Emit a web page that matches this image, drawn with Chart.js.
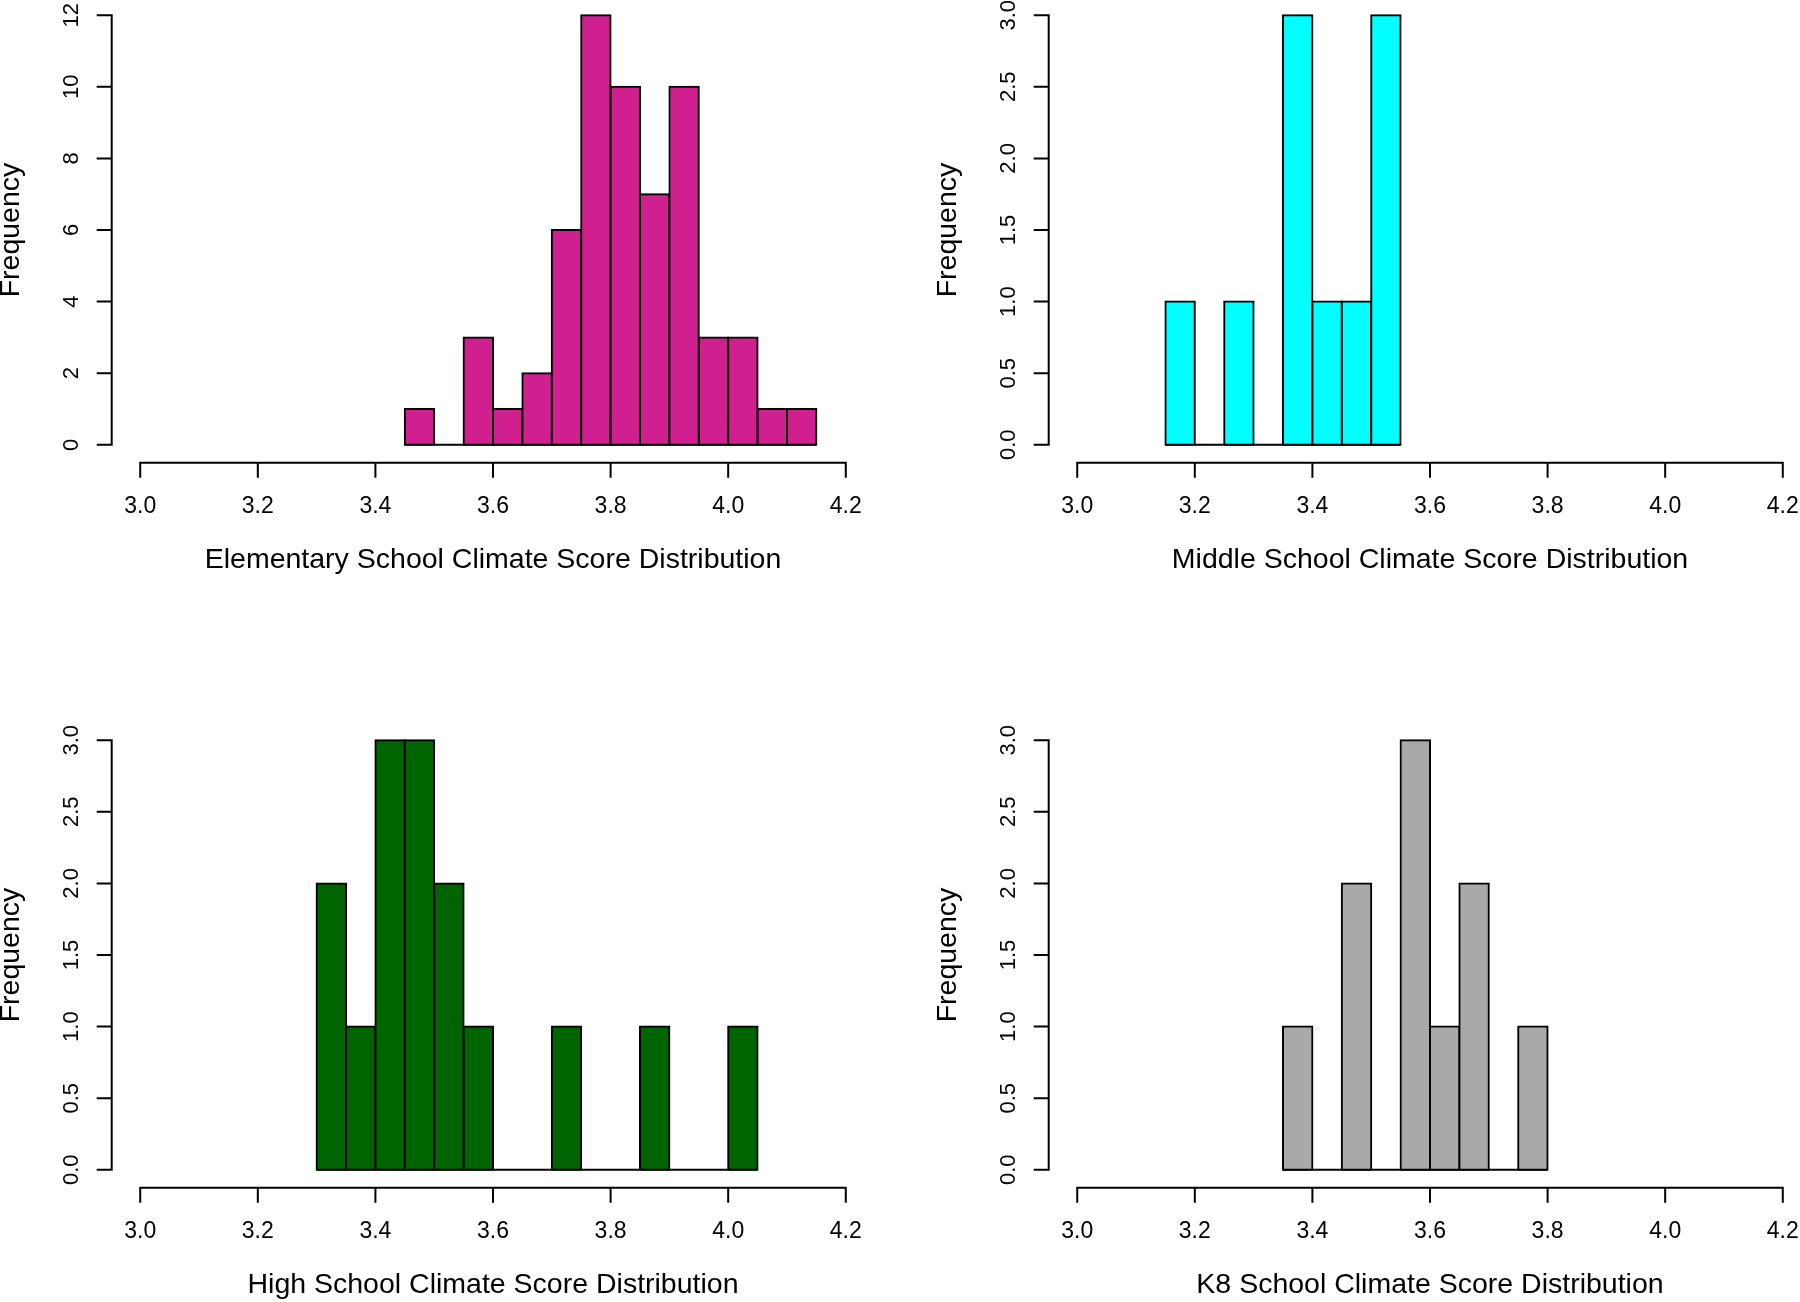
<!DOCTYPE html>
<html>
<head>
<meta charset="utf-8">
<script src="https://cdn.jsdelivr.net/npm/chart.js@4.4.1/dist/chart.umd.min.js"></script>
<style>
  html, body { margin: 0; padding: 0; background: #fff; }
  #wrap { position: relative; width: 1800px; height: 1302px; overflow: hidden; background: #fff; }
  canvas { position: absolute; }
</style>
</head>
<body>
<div id="wrap">
  <canvas id="c1" width="900" height="652" style="left:0px;top:-2px;"></canvas>
  <canvas id="c2" width="900" height="652" style="left:937px;top:-2px;"></canvas>
  <canvas id="c3" width="900" height="652" style="left:0px;top:723px;"></canvas>
  <canvas id="c4" width="900" height="652" style="left:937px;top:723px;"></canvas>
</div>
<script>
// ---- data ----
const xTicks = [3.0, 3.2, 3.4, 3.6, 3.8, 4.0, 4.2];

const elementaryBreaks = [3.45, 3.50, 3.55, 3.60, 3.65, 3.70, 3.75, 3.80, 3.85, 3.90, 3.95, 4.00, 4.05, 4.10, 4.15];
const elementaryCounts = [1, 0, 3, 1, 2, 6, 12, 10, 7, 10, 3, 3, 1, 1];
const elementaryYTicks = [0, 2, 4, 6, 8, 10, 12];

const middleBreaks = [3.15, 3.20, 3.25, 3.30, 3.35, 3.40, 3.45, 3.50, 3.55];
const middleCounts = [1, 0, 1, 0, 3, 1, 1, 3];
const middleYTicks = [0, 0.5, 1.0, 1.5, 2.0, 2.5, 3.0];

const highBreaks = [3.30, 3.35, 3.40, 3.45, 3.50, 3.55, 3.60, 3.65, 3.70, 3.75, 3.80, 3.85, 3.90, 3.95, 4.00, 4.05];
const highCounts = [2, 1, 3, 3, 2, 1, 0, 0, 1, 0, 0, 1, 0, 0, 1];
const highYTicks = [0, 0.5, 1.0, 1.5, 2.0, 2.5, 3.0];

const k8Breaks = [3.35, 3.40, 3.45, 3.50, 3.55, 3.60, 3.65, 3.70, 3.75, 3.80];
const k8Counts = [1, 0, 2, 0, 3, 1, 2, 0, 1];
const k8YTicks = [0, 0.5, 1.0, 1.5, 2.0, 2.5, 3.0];

const panelTitles = [
  'Elementary School Climate Score Distribution',
  'Middle School Climate Score Distribution',
  'High School Climate Score Distribution',
  'K8 School Climate Score Distribution'
];
const panelColors = ['#D02090', '#00FFFF', '#006400', '#A9A9A9'];
const yLabel = 'Frequency';

// ---- drawing ----
const FONT = '"Liberation Sans", Arial, Helvetica, sans-serif';

const rAxes = {
  id: 'rAxes',
  afterDraw(chart) {
    const { ctx, chartArea, scales } = chart;
    const xs = scales.x, ys = scales.y;
    const xv = xs.ticks.map(t => t.value);
    const yv = ys.ticks.map(t => t.value);
    ctx.save();
    ctx.strokeStyle = '#000';
    ctx.lineWidth = 2;
    ctx.lineCap = 'square';
    // x axis
    const ay = chartArea.bottom + 0.7;
    ctx.beginPath();
    ctx.moveTo(xs.getPixelForValue(xv[0]), ay);
    ctx.lineTo(xs.getPixelForValue(xv[xv.length - 1]), ay);
    xv.forEach(v => {
      const p = xs.getPixelForValue(v);
      ctx.moveTo(p, ay);
      ctx.lineTo(p, ay + 14);
    });
    ctx.stroke();
    // y axis
    const ax = chartArea.left - 0.3;
    ctx.beginPath();
    ctx.moveTo(ax, ys.getPixelForValue(yv[0]));
    ctx.lineTo(ax, ys.getPixelForValue(yv[yv.length - 1]));
    yv.forEach(v => {
      const p = ys.getPixelForValue(v);
      ctx.moveTo(ax, p);
      ctx.lineTo(ax - 14, p);
    });
    ctx.stroke();
    ctx.restore();
  }
};

function makeHist(id, breaks, counts, yTicks, title, color, intLabels) {
  const bars = counts.map((c, i) => ({ x: (breaks[i] + breaks[i + 1]) / 2, y: c }));
  const base = [{ x: breaks[0], y: 0 }, { x: breaks[breaks.length - 1], y: 0 }];
  const yMax = yTicks[yTicks.length - 1];
  new Chart(document.getElementById(id), {
    type: 'bar',
    data: {
      datasets: [
        {
          type: 'line',
          data: base,
          borderColor: '#000',
          borderWidth: 2,
          pointRadius: 0,
          fill: false,
          order: 2
        },
        {
          type: 'bar',
          data: bars,
          backgroundColor: color,
          borderColor: '#000',
          borderWidth: 2,
          borderSkipped: false,
          inflateAmount: 1,
          barPercentage: 1,
          categoryPercentage: 1,
          order: 1
        }
      ]
    },
    options: {
      responsive: false,
      animation: false,
      devicePixelRatio: 1,
      layout: { padding: { left: 0, top: 0, right: 26, bottom: 0 } },
      plugins: { legend: { display: false }, tooltip: { enabled: false } },
      scales: {
        x: {
          type: 'linear',
          position: 'bottom',
          offset: false,
          min: xTicks[0] - 0.04 * (xTicks[xTicks.length - 1] - xTicks[0]),
          max: xTicks[xTicks.length - 1] + 0.04 * (xTicks[xTicks.length - 1] - xTicks[0]),
          afterBuildTicks: s => { s.ticks = xTicks.map(v => ({ value: v })); },
          afterFit: s => { s.height = 188; s.paddingLeft = 0; s.paddingRight = 0; },
          border: { display: false },
          grid: { display: false, drawTicks: false, offset: false },
          ticks: {
            autoSkip: false,
            maxRotation: 0,
            minRotation: 0,
            padding: 30.9,
            color: '#000',
            font: { family: FONT, size: 23 },
            callback: v => Number(v).toFixed(1)
          },
          title: {
            display: true,
            text: title,
            color: '#000',
            font: { family: FONT, size: 28.5 },
            padding: { top: 0, bottom: 72.7 }
          }
        },
        y: {
          type: 'linear',
          position: 'left',
          min: -0.04 * yMax,
          max: 1.04 * yMax,
          afterBuildTicks: s => { s.ticks = yTicks.map(v => ({ value: v })); },
          afterFit: s => { s.width = 112; s.paddingTop = 0; s.paddingBottom = 0; },
          border: { display: false },
          grid: { display: false, drawTicks: false },
          ticks: {
            autoSkip: false,
            minRotation: 90,
            maxRotation: 90,
            crossAlign: 'center',
            padding: intLabels ? 28.3 : 25.2,
            color: '#000',
            font: { family: FONT, size: 22 },
            callback: v => intLabels ? String(Math.round(v)) : Number(v).toFixed(1)
          },
          title: {
            display: true,
            text: yLabel,
            color: '#000',
            font: { family: FONT, size: 28.5, lineHeight: 1 },
            padding: { top: -3, bottom: 0 }
          }
        }
      }
    },
    plugins: [rAxes]
  });
}

makeHist('c1', elementaryBreaks, elementaryCounts, elementaryYTicks, panelTitles[0], panelColors[0], true);
makeHist('c2', middleBreaks, middleCounts, middleYTicks, panelTitles[1], panelColors[1], false);
makeHist('c3', highBreaks, highCounts, highYTicks, panelTitles[2], panelColors[2], false);
makeHist('c4', k8Breaks, k8Counts, k8YTicks, panelTitles[3], panelColors[3], false);
</script>
</body>
</html>
